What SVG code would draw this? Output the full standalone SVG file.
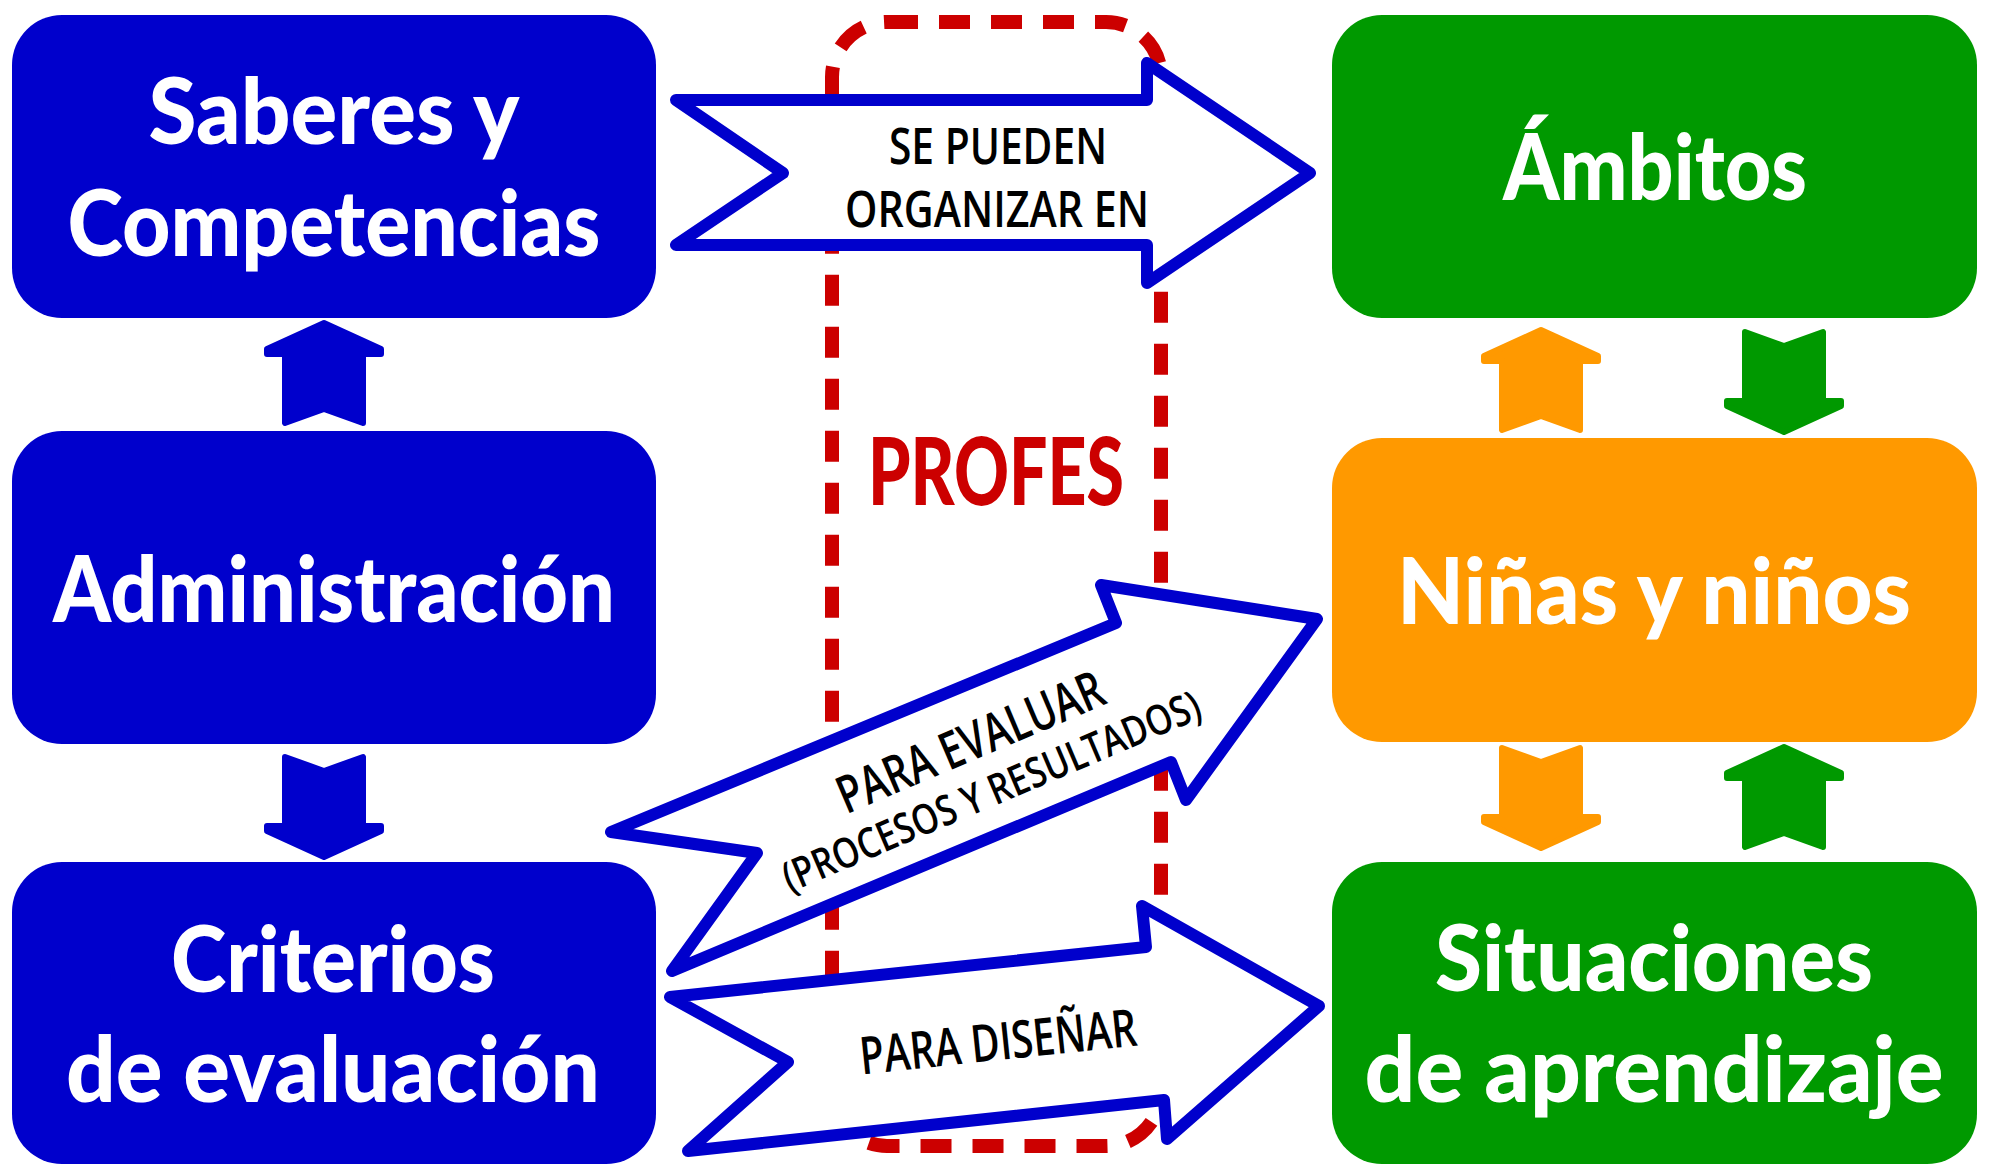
<svg xmlns="http://www.w3.org/2000/svg" width="1992" height="1176" viewBox="0 0 1992 1176">
<style>
.blue{fill:#0000cc}
.green{fill:#009900}
.orange{fill:#ff9900}
.title{font-family:"Lato","Open Sans","Liberation Sans",sans-serif;font-weight:900;font-size:92px;fill:#ffffff;text-anchor:middle}
.lab{font-family:"Open Sans","Liberation Sans",sans-serif;font-weight:600;fill:#000000;text-anchor:middle}
.big{fill:#ffffff;stroke:#0000cc;stroke-width:12;stroke-linejoin:round}
.ab{stroke-width:6;stroke-linejoin:round}
</style>
<defs>
<path id="up" d="M0,3 L57,29 L57,34 L39,34 L39,103 L0,89 L-39,103 L-39,34 L-57,34 L-57,29 Z"/>
</defs>
<rect width="1992" height="1176" fill="#ffffff"/>
<g id="profes">
<rect x="832" y="22" width="329" height="1124" rx="55" fill="none" stroke="#cc0000" stroke-width="14" stroke-dasharray="31 21"/>
<text x="996" y="505" font-family="Lato,'Open Sans','Liberation Sans',sans-serif" font-weight="900" font-size="94" fill="#cc0000" text-anchor="middle" textLength="256" lengthAdjust="spacingAndGlyphs">PROFES</text>
</g>
<g id="saberes">
<rect class="blue" x="12" y="15" width="644" height="303" rx="50"/>
<text class="title" x="334" y="144" textLength="371" lengthAdjust="spacingAndGlyphs">Saberes y</text>
<text class="title" x="334" y="256" textLength="533" lengthAdjust="spacingAndGlyphs">Competencias</text>
</g>
<g id="administracion">
<rect class="blue" x="12" y="431" width="644" height="313" rx="50"/>
<text class="title" x="334" y="622" textLength="562" lengthAdjust="spacingAndGlyphs">Administración</text>
</g>
<g id="criterios">
<rect class="blue" x="12" y="862" width="644" height="302" rx="50"/>
<text class="title" x="333" y="992" textLength="324" lengthAdjust="spacingAndGlyphs">Criterios</text>
<text class="title" x="333" y="1102" textLength="534" lengthAdjust="spacingAndGlyphs">de evaluación</text>
</g>
<g id="ambitos">
<rect class="green" x="1332" y="15" width="645" height="303" rx="50"/>
<text class="title" x="1655" y="200" textLength="304" lengthAdjust="spacingAndGlyphs">Ámbitos</text>
</g>
<g id="ninas">
<rect class="orange" x="1332" y="438" width="645" height="304" rx="50"/>
<text class="title" x="1654" y="624" textLength="514" lengthAdjust="spacingAndGlyphs">Niñas y niños</text>
</g>
<g id="situaciones">
<rect class="green" x="1332" y="862" width="645" height="302" rx="50"/>
<text class="title" x="1654" y="991" textLength="438" lengthAdjust="spacingAndGlyphs">Situaciones</text>
<text class="title" x="1654" y="1102" textLength="579" lengthAdjust="spacingAndGlyphs">de aprendizaje</text>
</g>
<g id="connectors">
<use href="#up" class="blue ab" stroke="#0000cc" transform="translate(324,320)"/>
<use href="#up" class="blue ab" stroke="#0000cc" transform="translate(324,860) rotate(180)"/>
<use href="#up" class="orange ab" stroke="#ff9900" transform="translate(1541,327)"/>
<use href="#up" class="green ab" stroke="#009900" transform="translate(1784,435) rotate(180)"/>
<use href="#up" class="orange ab" stroke="#ff9900" transform="translate(1541,851) rotate(180)"/>
<use href="#up" class="green ab" stroke="#009900" transform="translate(1784,744)"/>
<polygon class="big" points="676,100 783,173 676,245 1147,245 1147,283 1310,173 1147,63 1147,100"/>
<text class="lab" x="998" y="164" font-size="50" textLength="218" lengthAdjust="spacingAndGlyphs">SE PUEDEN</text>
<text class="lab" x="997" y="227" font-size="50" textLength="304" lengthAdjust="spacingAndGlyphs">ORGANIZAR EN</text>
<polygon class="big" points="611,832 757,853 672,971 1171,762 1186,800 1317,619 1101,585 1116,623"/>
<g transform="translate(981,767) rotate(-23)">
<text class="lab" x="0" y="-9" font-size="52" textLength="285" lengthAdjust="spacingAndGlyphs">PARA EVALUAR</text>
<text class="lab" x="0" y="41" font-size="42" textLength="450" lengthAdjust="spacingAndGlyphs">(PROCESOS Y RESULTADOS)</text>
</g>
<polygon class="big" points="670,997 788,1062 688,1151 1164,1100 1167,1139 1319,1006 1142,906 1146,947"/>
<text class="lab" transform="translate(998,1041) rotate(-6)" x="0" y="19" font-size="52" textLength="278" lengthAdjust="spacingAndGlyphs">PARA DISEÑAR</text>
</g>
</svg>
